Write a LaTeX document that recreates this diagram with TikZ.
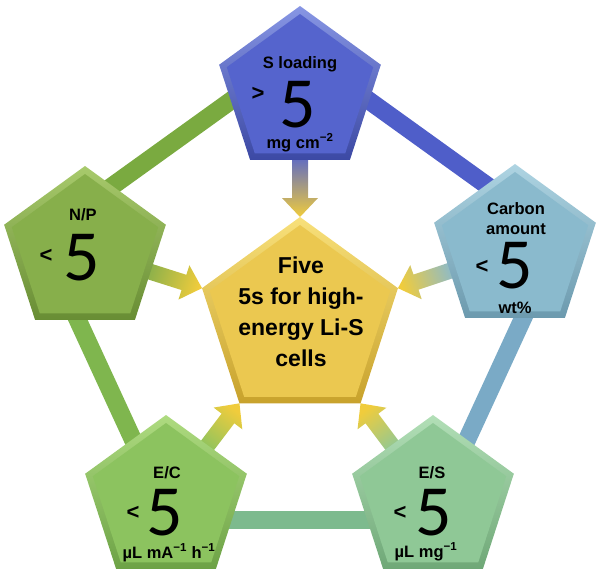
\documentclass[tikz,border=0pt]{standalone}
\usepackage{fontspec}
\setmainfont{Liberation Sans}
\newfontfamily\digitfont{Carlito}
\usetikzlibrary{shapes.geometric,calc}
\pgfdeclarelayer{bg}
\pgfsetlayers{bg,main}
\definecolor{slM}{HTML}{5564CD}\definecolor{slL}{HTML}{8796E4}\definecolor{slD}{HTML}{3C49A4}
\definecolor{npM}{HTML}{87AF4B}\definecolor{npL}{HTML}{A8CA6C}\definecolor{npD}{HTML}{688D34}
\definecolor{caM}{HTML}{8ABACD}\definecolor{caL}{HTML}{AED4E2}\definecolor{caD}{HTML}{6C9AAE}
\definecolor{ecM}{HTML}{8CC35F}\definecolor{ecL}{HTML}{AEDB80}\definecolor{ecD}{HTML}{6DA246}
\definecolor{esM}{HTML}{8FC896}\definecolor{esL}{HTML}{B2DFB7}\definecolor{esD}{HTML}{6FA877}
\definecolor{ctM}{HTML}{EBC850}\definecolor{ctL}{HTML}{F8E07A}\definecolor{ctD}{HTML}{C8A22C}
\definecolor{ctY}{HTML}{F0CC3C}
\definecolor{barA}{HTML}{7AAA40}\definecolor{barB}{HTML}{4F5EC9}\definecolor{barC}{HTML}{7AAAC6}
\definecolor{barD}{HTML}{7DBA8E}\definecolor{barE}{HTML}{7FB64E}
\newcommand\fatarrow[4]{%
  \coordinate (S) at ($(#1)!62pt!(#2)$);
  \coordinate (B) at ($(#2)!19pt!(#1)$);
  \shade[bottom color=#3, top color=ctY, shading angle=#4]
    ($(S)!8pt!90:(#2)$) -- ($(B)!8pt!-90:(S)$) -- ($(B)!18pt!-90:(S)$) -- (#2)
    -- ($(B)!18pt!90:(S)$) -- ($(B)!8pt!90:(S)$) -- ($(S)!8pt!-90:(#2)$) -- cycle;
}
\begin{document}
\begin{tikzpicture}[x=1pt,y=-1pt,
  pent/.style={regular polygon, regular polygon sides=5, inner sep=0pt, outer sep=0pt, draw=none},
  lbl/.style={font=\bfseries\fontsize{16.5}{20}\selectfont, inner sep=0pt, anchor=base},
  big/.style={font=\digitfont\fontsize{72}{72}\selectfont, inner sep=0pt, anchor=base},
  cmp/.style={font=\bfseries\fontsize{22}{22}\selectfont, inner sep=0pt},
  bar/.style={line width=18pt},
]
\useasboundingbox (0,0) rectangle (600,579);

% pentagons
\node[pent, minimum size=170pt, top color=slL, bottom color=slD] (sl) at (300,91) {};
\node[pent, minimum size=154pt, fill=slM] (sl-in) at (sl.center) {};
\node[pent, minimum size=170pt, top color=npL, bottom color=npD] (np) at (85,251) {};
\node[pent, minimum size=154pt, fill=npM] (np-in) at (np.center) {};
\node[pent, minimum size=170pt, top color=caL, bottom color=caD] (ca) at (515,249) {};
\node[pent, minimum size=154pt, fill=caM] (ca-in) at (ca.center) {};
\node[pent, minimum size=170pt, top color=ecL, bottom color=ecD] (ec) at (166,500) {};
\node[pent, minimum size=154pt, fill=ecM] (ec-in) at (ec.center) {};
\node[pent, minimum size=170pt, top color=esL, bottom color=esD] (es) at (433,500) {};
\node[pent, minimum size=154pt, fill=esM] (es-in) at (es.center) {};
\node[pent, minimum size=206pt, top color=ctL, bottom color=ctD] (ctr) at (300,320) {};
\node[pent, minimum size=190pt, fill=ctM] (ctr-in) at (ctr.center) {};

% texts
\node[lbl] (sl-t) at (300,68) {S loading};
\node[cmp] (sl-g) at (258,94) {>};
\node[big] (sl-5) at (298,127) {5};
\node[lbl] (sl-u) at (300,148) {mg cm\textsuperscript{\char"2212 2}};

\node[lbl] (np-t) at (83,220) {N/P};
\node[cmp] (np-g) at (46,256) {<};
\node[big] (np-5) at (82,280) {5};

\node[lbl] (ca-t) at (516,214) {Carbon};
\node[lbl] (ca-t2) at (516,234) {amount};
\node[cmp] (ca-g) at (482,267) {<};
\node[big] (ca-5) at (515,288) {5};
\node[lbl] (ca-u) at (515,313) {wt\%};

\node[lbl] (ec-t) at (167,478) {E/C};
\node[cmp] (ec-g) at (133,513) {<};
\node[big] (ec-5) at (165,535) {5};
\node[lbl] (ec-u) at (169,558) {µL mA\textsuperscript{\char"2212 1} h\textsuperscript{\char"2212 1}};

\node[lbl] (es-t) at (432,478) {E/S};
\node[cmp] (es-g) at (400,513) {<};
\node[big] (es-5) at (434,535) {5};
\node[lbl] (es-u) at (426,557) {µL mg\textsuperscript{\char"2212 1}};

\node[align=center, font=\bfseries\fontsize{23}{31}\selectfont, inner sep=0pt] (ctr-t) at (301,312)
  {Five\\5s for high-\\energy Li-S\\cells};

\begin{pgfonlayer}{bg}
  \coordinate (vsl) at (300,51);
  \coordinate (vnp) at (40,238);
  \coordinate (vca) at (560,238);
  \coordinate (vec) at (170,520);
  \coordinate (ves) at (430,520);
  \draw[bar, barA] (vsl) -- (vnp);
  \draw[bar, barB] (vsl) -- (vca);
  \draw[bar, barC] (vca) -- (ves);
  \draw[bar, barD] (ves) -- (vec);
  \draw[bar, barE] (vec) -- (vnp);
  \fatarrow{sl}{ctr.corner 1}{slM}{180}
  \fatarrow{np}{ctr.corner 2}{npM}{-107.5}
  \fatarrow{ec}{ctr.corner 3}{ecM}{-37.2}
  \fatarrow{es}{ctr.corner 4}{esM}{36.8}
  \fatarrow{ca}{ctr.corner 5}{caM}{108.4}
\end{pgfonlayer}
\end{tikzpicture}
\end{document}
